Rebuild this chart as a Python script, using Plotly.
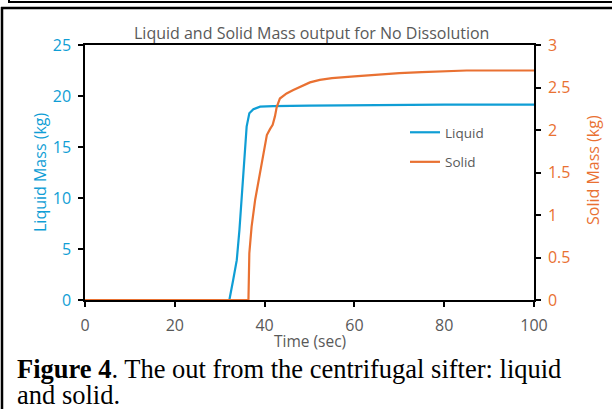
import plotly.graph_objects as go

# ---- data ----
time_liquid = [0, 32.15, 33.0, 33.8, 34.4, 34.9, 35.4, 36.0, 36.6, 37.5, 39.0, 41.9, 50, 60, 70, 80, 90, 100]
liquid = [0, 0, 1.96, 3.9, 6.9, 10.1, 13.7, 17.0, 18.3, 18.7, 18.95, 19.0, 19.05, 19.1, 19.15, 19.15, 19.15, 19.15]

time_solid = [0, 36.4, 36.6, 37.1, 37.9, 38.8, 39.7, 40.5, 41.2, 41.8, 42.3, 42.7, 43.4, 44.9, 46.4, 47.9,
              50.1, 52.3, 55, 60, 65, 70, 75, 80, 85, 90, 100]
solid = [0, 0, 0.55, 0.86, 1.18, 1.43, 1.69, 1.94, 2.01, 2.06, 2.16, 2.27, 2.37, 2.43, 2.47, 2.51,
         2.56, 2.59, 2.61, 2.63, 2.65, 2.67, 2.68, 2.69, 2.70, 2.70, 2.70]

x_ticks = [0, 20, 40, 60, 80, 100]
y1_ticks = [0, 5, 10, 15, 20, 25]
y2_ticks = [0, 0.5, 1, 1.5, 2, 2.5, 3]
y2_ticktext = ["0", "0.5", "1", "1.5", "2", "2.5", "3"]

BLUE = "#0F9ED5"
ORANGE = "#E97132"
GRAY = "#595959"
FONT = "Open Sans"

W, H = 612, 409
L_PX, R_PX, T_PX, B_PX = 85, 534, 45, 300


def px(x):
    return (x - L_PX) / (R_PX - L_PX)


def py(y):
    return (B_PX - y) / (B_PX - T_PX)


fig = go.Figure()
fig.add_trace(go.Scatter(x=time_liquid, y=liquid, mode="lines", name="Liquid",
                         line=dict(color=BLUE, width=2.2), legendgroup="a"))
fig.add_trace(go.Scatter(x=time_solid, y=solid, mode="lines", name="Solid", yaxis="y2",
                         line=dict(color=ORANGE, width=2.2), legendgroup="b"))

axis_common = dict(showgrid=False, zeroline=False, showline=True, linecolor="black", linewidth=1.5,
                   ticks="outside", ticklen=5, tickcolor="black", tickwidth=1.5)

fig.update_layout(
    width=W, height=H,
    margin=dict(l=L_PX, r=W - R_PX, t=T_PX, b=H - B_PX),
    paper_bgcolor="white", plot_bgcolor="white",
    font=dict(family=FONT, color=GRAY),
    showlegend=True,
    legend=dict(x=px(405), y=py(117), xanchor="left", yanchor="top", bgcolor="rgba(0,0,0,0)",
                font=dict(size=13.5, color=GRAY, family=FONT), tracegroupgap=9, traceorder="grouped",
                itemwidth=30),
    xaxis=dict(range=[0, 100], tickvals=x_ticks, ticktext=[str(v) for v in x_ticks], mirror=True,
               tickfont=dict(size=16, color=GRAY, family=FONT), ticklabelstandoff=5, **axis_common),
    yaxis=dict(range=[0, 25], tickvals=y1_ticks, ticktext=[str(v) for v in y1_ticks],
               tickfont=dict(size=16, color=BLUE, family=FONT), ticklabelstandoff=4, **axis_common),
    yaxis2=dict(range=[0, 3], tickvals=y2_ticks, ticktext=y2_ticktext, overlaying="y", side="right",
                tickfont=dict(size=16, color=ORANGE, family=FONT), ticklabelstandoff=4, **axis_common),
)

annotations = [
    dict(text="Liquid and Solid Mass output for No Dissolution", x=px(311), y=py(33), xref="paper", yref="paper",
         showarrow=False, font=dict(size=16, color=GRAY, family=FONT), xanchor="center", yanchor="middle"),
    dict(text="Time (sec)", x=px(310), y=py(341), xref="paper", yref="paper", showarrow=False,
         font=dict(size=15.5, color=GRAY, family=FONT), xanchor="center", yanchor="middle"),
    dict(text="Liquid Mass (kg)", x=px(40), y=py(173), xref="paper", yref="paper", showarrow=False,
         textangle=-90, font=dict(size=16, color=BLUE, family=FONT), xanchor="center", yanchor="middle"),
    dict(text="Solid Mass (kg)", x=px(593), y=py(170), xref="paper", yref="paper", showarrow=False,
         textangle=-90, font=dict(size=16, color=ORANGE, family=FONT), xanchor="center", yanchor="middle"),
    dict(text="<b>Figure 4</b>. The out from the centrifugal sifter: liquid",
         x=px(15), y=py(369), xref="paper", yref="paper", showarrow=False, align="left",
         font=dict(size=26.5, color="black", family="Liberation Serif"), xanchor="left", yanchor="middle"),
    dict(text="and solid.",
         x=px(15), y=py(395), xref="paper", yref="paper", showarrow=False, align="left",
         font=dict(size=26.5, color="black", family="Liberation Serif"), xanchor="left", yanchor="middle"),
]
fig.update_layout(annotations=annotations)

shapes = [
    dict(type="line", xref="paper", yref="paper", x0=px(9), x1=px(614), y0=py(2), y1=py(2),
         line=dict(color="black", width=2)),
    dict(type="line", xref="paper", yref="paper", x0=px(9), x1=px(9), y0=py(-2), y1=py(3),
         line=dict(color="black", width=2)),
    dict(type="line", xref="paper", yref="paper", x0=px(1), x1=px(614), y0=py(8), y1=py(8),
         line=dict(color="black", width=2.5)),
    dict(type="line", xref="paper", yref="paper", x0=px(2), x1=px(2), y0=py(7), y1=py(412),
         line=dict(color="black", width=2.5)),
]
fig.update_layout(shapes=shapes)

fig.write_html("out.html")
